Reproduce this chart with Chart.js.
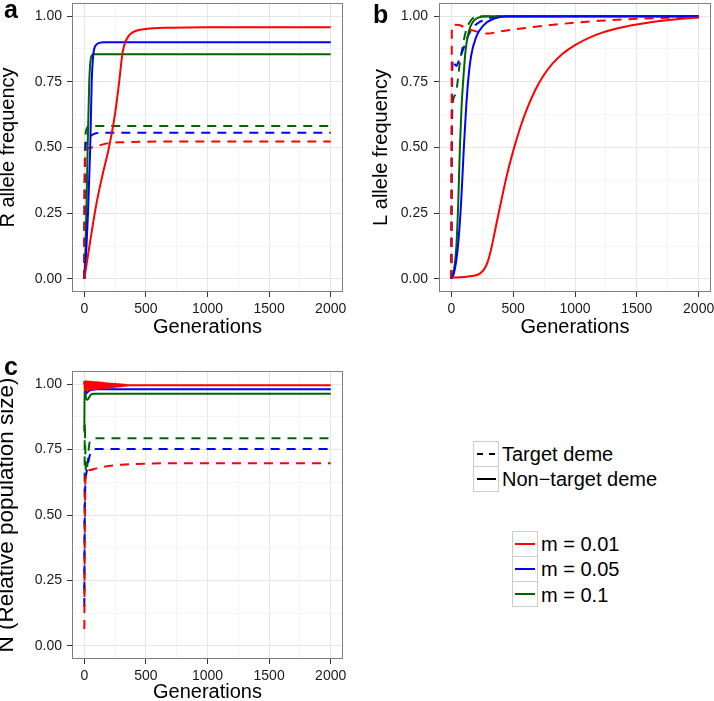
<!DOCTYPE html>
<html>
<head>
<meta charset="utf-8">
<script src="https://cdn.jsdelivr.net/npm/chart.js@4.4.0/dist/chart.umd.min.js"></script>
<style>
  html, body { margin: 0; padding: 0; background: #fff; overflow: hidden; }
  body { position: relative; width: 714px; height: 701px; font-family: "Liberation Sans", Arial, sans-serif; color: #000; }
  canvas { position: absolute; }
  .tag { position: absolute; font-weight: bold; font-size: 25px; line-height: 25px; }
  .txt { position: absolute; font-size: 20px; line-height: 20px; white-space: nowrap; }
  .key { position: absolute; width: 26px; height: 26px; box-sizing: border-box; border: 1px solid #cccccc; background: #fff; }
  .key svg { position: absolute; left: 0; top: 0; }
</style>
</head>
<body>
<canvas id="panelA" width="357" height="340" style="left:0;top:0"></canvas>
<canvas id="panelB" width="354" height="340" style="left:360px;top:0"></canvas>
<canvas id="panelC" width="357" height="371" style="left:0;top:330px"></canvas>

<div class="tag" style="left:4px;top:-3px">a</div>
<div class="tag" style="left:373px;top:2px">b</div>
<div class="tag" style="left:4px;top:354px">c</div>

<!-- deme legend -->
<div class="key" style="left:473px;top:441px"><svg width="24" height="24"><line x1="3" y1="12" x2="22" y2="12" stroke="#000" stroke-width="2" stroke-dasharray="6,6"/></svg></div>
<div class="key" style="left:473px;top:466px"><svg width="24" height="24"><line x1="3" y1="12" x2="22" y2="12" stroke="#000" stroke-width="2"/></svg></div>
<div class="txt" style="left:502px;top:444px">Target deme</div>
<div class="txt" style="left:502px;top:469px">Non&#8722;target deme</div>

<!-- migration legend -->
<div class="key" style="left:512px;top:531px"><svg width="24" height="24"><line x1="2" y1="12" x2="22" y2="12" stroke="#ff0000" stroke-width="2"/></svg></div>
<div class="key" style="left:512px;top:556px"><svg width="24" height="24"><line x1="2" y1="12" x2="22" y2="12" stroke="#0000ff" stroke-width="2"/></svg></div>
<div class="key" style="left:512px;top:581px"><svg width="24" height="24"><line x1="2" y1="12" x2="22" y2="12" stroke="#006400" stroke-width="2"/></svg></div>
<div class="txt" style="left:541px;top:534px">m = 0.01</div>
<div class="txt" style="left:541px;top:559px">m = 0.05</div>
<div class="txt" style="left:541px;top:585px">m = 0.1</div>

<script>
// axis ticks (major labelled, minor only gridded)
const xGrid = [0, 250, 500, 750, 1000, 1250, 1500, 1750, 2000];
const xMajor = [0, 500, 1000, 1500, 2000];
const xLabels = ["0", "500", "1000", "1500", "2000"];
const yGrid = [0, 0.125, 0.25, 0.375, 0.5, 0.625, 0.75, 0.875, 1];
const yMajor = [0, 0.25, 0.5, 0.75, 1];
const yLabels = ["0.00", "0.25", "0.50", "0.75", "1.00"];

const colors = { red: "#ff0000", blue: "#0000ff", green: "#006400" };

// panel a: R allele frequency, [generation, value]
const aRedNon = [[0,0],[50,0.15],[100,0.29],[150,0.40],[200,0.50],[250,0.63],[283,0.75],[310,0.86],[332,0.90],[360,0.925],[400,0.94],[500,0.951],[700,0.956],[1000,0.958],[2000,0.958]];
const aBlueNon = [[0,0],[15,0.1],[30,0.25],[48,0.5],[60,0.75],[70,0.84],[80,0.875],[95,0.89],[120,0.898],[160,0.901],[2000,0.901]];
const aGreenNon = [[0,0],[10,0.12],[20,0.33],[27,0.5],[40,0.75],[50,0.83],[60,0.85],[80,0.855],[2000,0.855]];
const aRedTarget = [[0,0],[2,0.3],[5,0.46],[10,0.49],[30,0.497],[60,0.50],[100,0.505],[150,0.512],[200,0.517],[300,0.52],[500,0.522],[1000,0.523],[2000,0.523]];
const aBlueTarget = [[0,0],[3,0.3],[8,0.48],[15,0.52],[30,0.535],[55,0.545],[80,0.552],[120,0.555],[200,0.556],[2000,0.556]];
const aGreenTarget = [[0,0],[3,0.35],[8,0.52],[15,0.565],[30,0.578],[60,0.582],[2000,0.582]];

// panel b: L allele frequency
const bRedNon = [[0,0.005],[100,0.007],[150,0.01],[200,0.014],[230,0.02],[260,0.033],[290,0.06],[320,0.11],[343,0.16],[380,0.245],[423,0.34],[460,0.415],[502,0.49],[560,0.58],[614,0.65],[680,0.72],[747,0.775],[820,0.82],[900,0.857],[1000,0.89],[1150,0.925],[1300,0.948],[1450,0.964],[1600,0.976],[1800,0.987],[2000,0.995]];
const bBlueNon = [[0,0],[20,0.02],[40,0.07],[60,0.16],[80,0.3],[101,0.5],[118,0.64],[135,0.75],[160,0.85],[200,0.92],[260,0.965],[340,0.99],[450,0.999],[2000,1]];
const bGreenNon = [[0,0],[20,0.03],[40,0.12],[55,0.28],[69,0.5],[82,0.65],[95,0.75],[115,0.87],[140,0.94],[170,0.975],[200,0.99],[250,0.998],[300,1],[2000,1]];
const bRedTarget = [[0,0],[2,0.6],[4,0.96],[20,0.967],[60,0.966],[120,0.955],[200,0.942],[289,0.934],[400,0.942],[600,0.955],[883,0.97],[1200,0.982],[1500,0.99],[2000,0.996]];
const bBlueTarget = [[0,0],[3,0.5],[8,0.8],[15,0.835],[25,0.82],[40,0.81],[60,0.83],[100,0.88],[140,0.93],[181,0.96],[230,0.978],[289,0.99],[350,0.997],[450,1],[2000,1]];
const bGreenTarget = [[0,0],[2,0.3],[5,0.55],[10,0.66],[30,0.7],[45,0.73],[65,0.81],[90,0.88],[113,0.935],[140,0.97],[170,0.99],[220,1],[2000,1]];

// panel c: N (relative population size); red non-target oscillates early on
const cRedNon = [[0,1.012],[6,0.975],[12,1.011],[18,0.976],[24,1.011],[30,0.977],[36,1.010],[42,0.977],[48,1.010],[54,0.978],
    [60,1.009],[66,0.979],[72,1.009],[78,0.979],[84,1.008],[90,0.980],[96,1.008],[102,0.981],[108,1.007],[114,0.981],
    [120,1.007],[126,0.982],[132,1.006],[138,0.983],[144,1.006],[150,0.983],[156,1.005],[162,0.984],[168,1.004],[174,0.985],
    [180,1.004],[186,0.985],[192,1.003],[198,0.986],[204,1.003],[210,0.987],[216,1.002],[222,0.987],[228,1.002],[234,0.988],
    [240,1.001],[246,0.989],[252,1.001],[258,0.989],[264,1.000],[270,0.990],[276,1.000],[282,0.991],[288,0.999],[294,0.991],
    [300,0.999],[306,0.992],[312,0.998],[318,0.993],[324,0.998],[330,0.993],[336,0.997],[342,0.994],[348,0.997],[354,0.995],
    [360,0.996],[500,0.996],[2000,0.996]];
const cBlueNon = [[0,1.0],[8,1.01],[15,0.965],[25,0.968],[40,0.975],[60,0.978],[100,0.98],[2000,0.98]];
const cGreenNon = [[0,0.82],[3,1.01],[8,0.97],[15,0.945],[25,0.94],[40,0.95],[54,0.96],[80,0.963],[2000,0.963]];
const cRedTarget = [[0,0.065],[3,0.35],[6,0.55],[10,0.64],[20,0.668],[50,0.672],[100,0.678],[200,0.687],[300,0.692],[500,0.696],[800,0.698],[2000,0.698]];
const cBlueTarget = [[0,0.15],[3,0.45],[8,0.62],[15,0.655],[25,0.68],[40,0.72],[60,0.745],[100,0.752],[2000,0.752]];
const cGreenTarget = [[0,0.2],[2,0.6],[4,0.85],[8,0.75],[14,0.665],[25,0.69],[40,0.77],[60,0.788],[100,0.793],[2000,0.793]];

const FONT = "'Liberation Sans', Arial, sans-serif";

const panelBorder = {
    id: "panelBorder",
    afterDatasetsDraw(chart) {
        const { ctx, chartArea } = chart;
        const l = Math.round(chartArea.left) + 0.5, t = Math.round(chartArea.top) + 0.5;
        const r = Math.round(chartArea.right) - 0.5, b = Math.round(chartArea.bottom) - 0.5;
        ctx.save();
        ctx.strokeStyle = "#7f7f7f";
        ctx.lineWidth = 1;
        ctx.strokeRect(l, t, r - l, b - t);
        ctx.restore();
    },
};

function line(points, color, dashed) {
    return {
        data: points.map(([x, y]) => ({ x, y })),
        borderColor: color,
        borderWidth: 2,
        borderDash: dashed ? [9, 7] : [],
        pointRadius: 0,
        fill: false,
        cubicInterpolationMode: "monotone",
    };
}

function makePanel(id, sets, p) {
    const ctx = document.getElementById(id).getContext("2d");
    return new Chart(ctx, {
        type: "line",
        data: {
            datasets: [
                line(sets[0], colors.red, false),
                line(sets[1], colors.blue, false),
                line(sets[2], colors.green, false),
                line(sets[3], colors.red, true),
                line(sets[4], colors.blue, true),
                line(sets[5], colors.green, true),
            ],
        },
        options: {
            responsive: false,
            animation: false,
            events: [],
            layout: { padding: { left: 0, top: p.top, right: p.right, bottom: 0 } },
            plugins: { legend: { display: false }, tooltip: { enabled: false } },
            scales: {
                x: {
                    type: "linear",
                    min: -100,
                    max: 2100,
                    afterBuildTicks: (s) => { s.ticks = xGrid.map((v) => ({ value: v })); },
                    afterFit: (s) => { s.height = p.xh; s.paddingLeft = 0; s.paddingRight = 0; },
                    border: { display: false },
                    grid: {
                        color: (c) => (xMajor.includes(c.tick.value) ? "#e5e5e5" : "#f4f4f4"),
                        tickColor: (c) => (xMajor.includes(c.tick.value) ? "#333333" : "rgba(0,0,0,0)"),
                        tickLength: 5,
                    },
                    ticks: {
                        autoSkip: false,
                        maxRotation: 0,
                        padding: 4,
                        color: "#1a1a1a",
                        font: { family: FONT, size: 14 },
                        callback: (v) => { const i = xMajor.indexOf(v); return i >= 0 ? xLabels[i] : ""; },
                    },
                    title: {
                        display: true,
                        text: "Generations",
                        color: "#000",
                        font: { family: FONT, size: 20, lineHeight: 1.2 },
                        padding: { top: 0, bottom: p.xtb },
                    },
                },
                y: {
                    type: "linear",
                    min: -0.05,
                    max: 1.05,
                    afterBuildTicks: (s) => { s.ticks = yGrid.map((v) => ({ value: v })); },
                    afterFit: (s) => { s.width = p.yw; s.paddingTop = 0; s.paddingBottom = 0; },
                    border: { display: false },
                    grid: {
                        color: (c) => (yMajor.includes(c.tick.value) ? "#e5e5e5" : "#f4f4f4"),
                        tickColor: (c) => (yMajor.includes(c.tick.value) ? "#333333" : "rgba(0,0,0,0)"),
                        tickLength: 5,
                    },
                    ticks: {
                        autoSkip: false,
                        padding: p.ytp,
                        color: "#1a1a1a",
                        font: { family: FONT, size: 14 },
                        callback: (v) => { const i = yMajor.indexOf(v); return i >= 0 ? yLabels[i] : ""; },
                    },
                    title: {
                        display: true,
                        text: p.ytitle,
                        color: "#000",
                        font: { family: FONT, size: p.yts, lineHeight: 1 },
                        padding: { top: p.ypt, bottom: 0 },
                    },
                },
            },
        },
        plugins: [panelBorder],
    });
}

makePanel("panelA", [aRedNon, aBlueNon, aGreenNon, aRedTarget, aBlueTarget, aGreenTarget],
    { top: 3, right: 14, xh: 48, xtb: 1, yw: 72, ytp: 5, ytitle: "R allele frequency", yts: 20, ypt: -2 });
makePanel("panelB", [bRedNon, bBlueNon, bGreenNon, bRedTarget, bBlueTarget, bGreenTarget],
    { top: 3, right: 3, xh: 48, xtb: 1, yw: 79, ytp: 6, ytitle: "L allele frequency", yts: 20, ypt: 11 });
makePanel("panelC", [cRedNon, cBlueNon, cGreenNon, cRedTarget, cBlueTarget, cGreenTarget],
    { top: 41, right: 14, xh: 42, xtb: -3, yw: 72, ytp: 5, ytitle: "N (Relative population size)", yts: 22.5, ypt: -4 });
</script>
</body>
</html>
